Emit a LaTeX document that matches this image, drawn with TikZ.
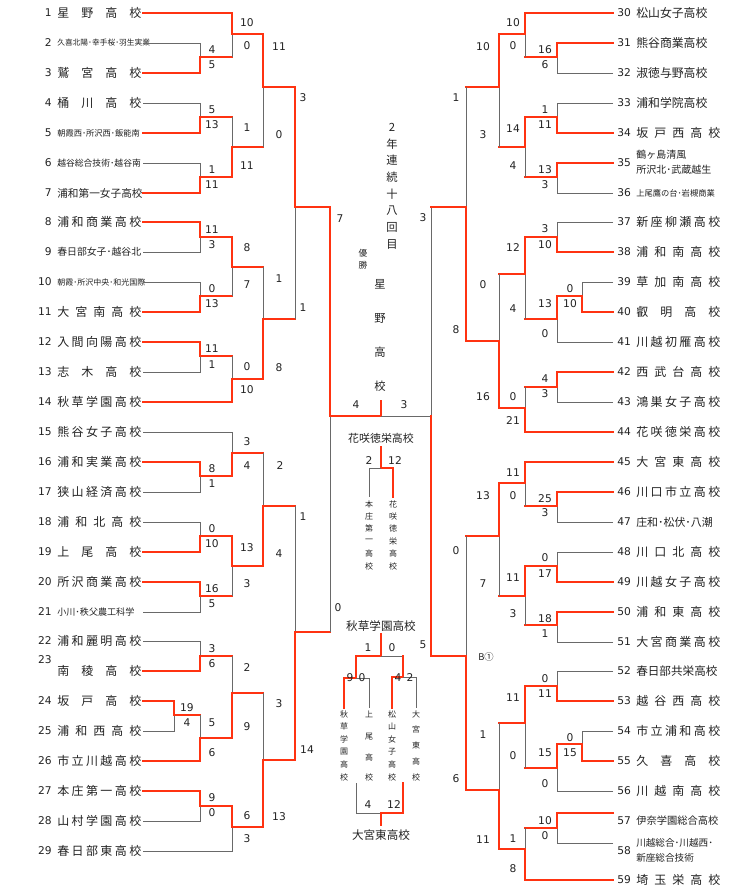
\documentclass[tikz,border=0pt]{standalone}
\usepackage{fontspec}
\setmainfont{DejaVu Sans}
\newfontfamily\jp{Noto Sans CJK JP}
\definecolor{rd}{RGB}{255,51,17}
\definecolor{ln}{RGB}{105,105,105}
\definecolor{tx}{RGB}{35,35,35}
\def\sprA#1{#1\sprB}
\def\sprB#1{\ifx#1\relax\else\hfill#1\expandafter\sprB\fi}
\newcommand\spr[1]{\makebox[63pt][l]{\sprA#1\relax}}
\newcommand\LT[4]{\node[num,anchor=east] (ln#2) at (52,#1) {#2};
  \node[anchor=west,inner sep=0,text=tx,font=\jp\fontsize{#3}{#3}\selectfont] (L#2) at (57,#1) {#4};}
\newcommand\RT[4]{\node[num,anchor=west] (rn#2) at (617,#1) {#2};
  \node[anchor=west,inner sep=0,text=tx,font=\jp\fontsize{#3}{#3}\selectfont] (R#2) at (636,#1) {#4};}
\begin{document}
\begin{tikzpicture}[x=0.75pt,y=-0.75pt,
  R/.style={draw=rd,line width=2.2pt,line join=miter,line cap=rect},
  G/.style={draw=ln,line width=0.75pt},
  num/.style={inner sep=0,text=tx,font=\fontsize{8}{8}\selectfont},
  sc/.style={inner sep=0,text=tx,font=\fontsize{8}{8}\selectfont},
  jpt/.style={inner sep=0,text=tx,font=\jp\fontsize{#1}{#1}\selectfont}]
\useasboundingbox[fill=white] (0,0) rectangle (748,893);
% ---------- left teams
\LT{13}{1}{9}{\spr{星野高校}}
\LT{43}{2}{5.8}{久喜北陽･幸手桜･羽生実業}
\LT{73}{3}{9}{\spr{鷲宮高校}}
\LT{103}{4}{9}{\spr{桶川高校}}
\LT{133}{5}{6.2}{朝霞西･所沢西･飯能南}
\LT{163}{6}{6.6}{越谷総合技術･越谷南}
\LT{193}{7}{8}{浦和第一女子高校}
\LT{222}{8}{9}{\spr{浦和商業高校}}
\LT{252}{9}{7.4}{春日部女子･越谷北}
\LT{282}{10}{6}{朝霞･所沢中央･和光国際}
\LT{312}{11}{9}{\spr{大宮南高校}}
\LT{342}{12}{9}{\spr{入間向陽高校}}
\LT{372}{13}{9}{\spr{志木高校}}
\LT{402}{14}{9}{\spr{秋草学園高校}}
\LT{432}{15}{9}{\spr{熊谷女子高校}}
\LT{462}{16}{9}{\spr{浦和実業高校}}
\LT{492}{17}{9}{\spr{狭山経済高校}}
\LT{522}{18}{9}{\spr{浦和北高校}}
\LT{552}{19}{9}{\spr{上尾高校}}
\LT{582}{20}{9}{\spr{所沢商業高校}}
\LT{612}{21}{6.8}{小川･秩父農工科学}
\LT{641}{22}{9}{\spr{浦和麗明高校}}
\node[num,anchor=east] (ln23) at (52,660) {23};
\node[anchor=west,inner sep=0,text=tx,font=\jp\fontsize{9}{9}\selectfont] (L23) at (57,671) {\spr{南稜高校}};
\LT{701}{24}{9}{\spr{坂戸高校}}
\LT{731}{25}{9}{\spr{浦和西高校}}
\LT{761}{26}{9}{\spr{市立川越高校}}
\LT{791}{27}{9}{\spr{本庄第一高校}}
\LT{821}{28}{9}{\spr{山村学園高校}}
\LT{851}{29}{9}{\spr{春日部東高校}}
% ---------- right teams
\RT{13}{30}{8.9}{松山女子高校}
\RT{43}{31}{8.9}{熊谷商業高校}
\RT{73}{32}{8.9}{淑徳与野高校}
\RT{103}{33}{8.9}{浦和学院高校}
\RT{133}{34}{9}{\spr{坂戸西高校}}
\node[num,anchor=west] (rn35) at (617,163) {35};
\node[jpt=7.5,anchor=west] (R35a) at (636,155) {鶴ヶ島清風};
\node[jpt=7.5,anchor=west] (R35b) at (636,170) {所沢北･武蔵越生};
\RT{193}{36}{6.2}{上尾鷹の台･岩槻商業}
\RT{222}{37}{9}{\spr{新座柳瀬高校}}
\RT{252}{38}{9}{\spr{浦和南高校}}
\RT{282}{39}{9}{\spr{草加南高校}}
\RT{312}{40}{9}{\spr{叡明高校}}
\RT{342}{41}{9}{\spr{川越初雁高校}}
\RT{372}{42}{9}{\spr{西武台高校}}
\RT{402}{43}{9}{\spr{鴻巣女子高校}}
\RT{432}{44}{9}{\spr{花咲徳栄高校}}
\RT{462}{45}{9}{\spr{大宮東高校}}
\RT{492}{46}{9}{\spr{川口市立高校}}
\RT{522}{47}{8.2}{庄和･松伏･八潮}
\RT{552}{48}{9}{\spr{川口北高校}}
\RT{582}{49}{9}{\spr{川越女子高校}}
\RT{612}{50}{9}{\spr{浦和東高校}}
\RT{642}{51}{9}{\spr{大宮商業高校}}
\RT{671}{52}{8.7}{春日部共栄高校}
\RT{701}{53}{9}{\spr{越谷西高校}}
\RT{731}{54}{9}{\spr{市立浦和高校}}
\RT{761}{55}{9}{\spr{久喜高校}}
\RT{791}{56}{9}{\spr{川越南高校}}
\RT{821}{57}{7.7}{伊奈学園総合高校}
\node[num,anchor=west] (rn58) at (617,851) {58};
\node[jpt=7.2,anchor=west] (R58a) at (636,843) {川越総合･川越西･};
\node[jpt=7.2,anchor=west] (R58b) at (636,858) {新座総合技術};
\RT{880}{59}{9}{\spr{埼玉栄高校}}
% ---------- left bracket (top)
\draw[G] (143,43)--(200,43)--(200,57);
\draw[R] (143,73)--(200,73)--(200,57);
\draw[R] (143,13)--(232,13)--(232,34);
\draw[R] (200,57)--(232,57); \draw[G] (232,57)--(232,34);
\draw[R] (232,34)--(263,34)--(263,87);
\draw[G] (143,103)--(200,103)--(200,117); \draw[R] (143,133)--(200,133)--(200,117);
\draw[G] (143,163)--(200,163)--(200,177); \draw[R] (143,193)--(200,193)--(200,177);
\draw[R] (200,117)--(232,117); \draw[G] (232,117)--(232,147); \draw[R] (200,177)--(232,177)--(232,147);
\draw[R] (232,147)--(263,147); \draw[G] (263,147)--(263,87);
\draw[R] (263,87)--(295,87)--(295,207);
\draw[R] (143,222)--(200,222)--(200,237); \draw[G] (143,252)--(200,252)--(200,237);
\draw[G] (143,282)--(200,282)--(200,296); \draw[R] (143,312)--(200,312)--(200,296);
\draw[R] (200,237)--(232,237)--(232,267); \draw[R] (200,296)--(232,296); \draw[G] (232,296)--(232,267);
\draw[R] (143,342)--(200,342)--(200,356); \draw[G] (143,372)--(200,372)--(200,356);
\draw[R] (200,356)--(232,356); \draw[G] (232,356)--(232,379); \draw[R] (143,402)--(232,402)--(232,379);
\draw[R] (232,267)--(263,267); \draw[G] (263,267)--(263,319); \draw[R] (232,379)--(263,379)--(263,319);
\draw[R] (263,319)--(295,319); \draw[G] (295,319)--(295,207);
\draw[R] (295,207)--(330,207)--(330,416);
% left bottom
\draw[R] (143,462)--(200,462)--(200,476); \draw[G] (143,492)--(200,492)--(200,476);
\draw[G] (143,432)--(232,432)--(232,453); \draw[R] (200,476)--(232,476)--(232,453);
\draw[G] (143,522)--(200,522)--(200,536); \draw[R] (143,552)--(200,552)--(200,536);
\draw[R] (143,582)--(200,582)--(200,596); \draw[G] (143,612)--(200,612)--(200,596);
\draw[R] (200,536)--(232,536)--(232,566); \draw[R] (200,596)--(232,596); \draw[G] (232,596)--(232,566);
\draw[R] (232,453)--(263,453); \draw[G] (263,453)--(263,506); \draw[R] (232,566)--(263,566)--(263,506);
\draw[G] (143,641)--(200,641)--(200,656); \draw[R] (143,671)--(200,671)--(200,656);
\draw[R] (143,701)--(174,701)--(174,715); \draw[G] (143,731)--(174,731)--(174,715);
\draw[R] (174,715)--(200,715); \draw[G] (200,715)--(200,738); \draw[R] (143,761)--(200,761)--(200,738);
\draw[R] (200,656)--(232,656); \draw[G] (232,656)--(232,693); \draw[R] (200,738)--(232,738)--(232,693);
\draw[R] (143,791)--(200,791)--(200,806); \draw[G] (143,821)--(200,821)--(200,806);
\draw[R] (200,806)--(232,806)--(232,827); \draw[G] (143,851)--(232,851)--(232,827);
\draw[R] (232,693)--(263,693); \draw[G] (263,693)--(263,760); \draw[R] (232,827)--(263,827)--(263,760);
\draw[R] (263,506)--(295,506); \draw[G] (295,506)--(295,632); \draw[R] (263,760)--(295,760)--(295,632);
\draw[R] (295,632)--(330,632); \draw[G] (330,632)--(330,416);
% final
\draw[R] (330,416)--(381,416)--(381,401);
\draw[G] (381,416)--(431,416); \draw[G] (431,207)--(431,416);
\draw[R] (466,656)--(431,656)--(431,416);
\draw[R] (466,207)--(431,207);
% ---------- right bracket (top)
\draw[R] (613,43)--(557,43)--(557,57); \draw[G] (613,73)--(557,73)--(557,57);
\draw[R] (613,13)--(525,13)--(525,34); \draw[R] (557,57)--(525,57); \draw[G] (525,57)--(525,34);
\draw[G] (613,103)--(557,103)--(557,117); \draw[R] (613,133)--(557,133)--(557,117);
\draw[R] (613,163)--(557,163)--(557,177); \draw[G] (613,193)--(557,193)--(557,177);
\draw[R] (557,117)--(525,117)--(525,147); \draw[R] (557,177)--(525,177); \draw[G] (525,177)--(525,147);
\draw[R] (525,34)--(499,34)--(499,87); \draw[R] (525,147)--(499,147); \draw[G] (499,147)--(499,87);
\draw[G] (613,222)--(557,222)--(557,237); \draw[R] (613,252)--(557,252)--(557,237);
\draw[G] (613,282)--(582,282)--(582,296); \draw[R] (613,312)--(582,312)--(582,296);
\draw[R] (582,296)--(557,296)--(557,319); \draw[G] (613,342)--(557,342)--(557,319);
\draw[R] (557,237)--(525,237)--(525,274); \draw[R] (557,319)--(525,319); \draw[G] (525,319)--(525,274);
\draw[R] (613,372)--(557,372)--(557,387); \draw[G] (613,402)--(557,402)--(557,387);
\draw[R] (557,387)--(525,387); \draw[G] (525,387)--(525,408); \draw[R] (613,432)--(525,432)--(525,408);
\draw[R] (525,274)--(499,274); \draw[G] (499,274)--(499,341); \draw[R] (525,408)--(499,408)--(499,341);
\draw[R] (499,87)--(466,87); \draw[G] (466,87)--(466,207); \draw[R] (499,341)--(466,341)--(466,207);
% right bottom
\draw[R] (613,492)--(557,492)--(557,506); \draw[G] (613,522)--(557,522)--(557,506);
\draw[R] (613,462)--(525,462)--(525,483); \draw[R] (557,506)--(525,506); \draw[G] (525,506)--(525,483);
\draw[G] (613,552)--(557,552)--(557,566); \draw[R] (613,582)--(557,582)--(557,566);
\draw[R] (613,612)--(557,612)--(557,625); \draw[G] (613,642)--(557,642)--(557,625);
\draw[R] (557,566)--(525,566)--(525,596); \draw[R] (557,625)--(525,625); \draw[G] (525,625)--(525,596);
\draw[R] (525,483)--(499,483)--(499,536); \draw[R] (525,596)--(499,596); \draw[G] (499,596)--(499,536);
\draw[G] (613,671)--(557,671)--(557,686); \draw[R] (613,701)--(557,701)--(557,686);
\draw[G] (613,731)--(582,731)--(582,744); \draw[R] (613,761)--(582,761)--(582,744);
\draw[R] (582,744)--(557,744)--(557,768); \draw[G] (613,791)--(557,791)--(557,768);
\draw[R] (557,686)--(525,686)--(525,723); \draw[R] (557,768)--(525,768); \draw[G] (525,768)--(525,723);
\draw[R] (613,813)--(557,813)--(557,828); \draw[G] (613,843)--(557,843)--(557,828);
\draw[R] (557,828)--(525,828); \draw[G] (525,828)--(525,849); \draw[R] (613,880)--(525,880)--(525,849);
\draw[R] (525,723)--(499,723); \draw[G] (499,723)--(499,790); \draw[R] (525,849)--(499,849)--(499,790);
\draw[R] (499,536)--(466,536); \draw[G] (466,536)--(466,656); \draw[R] (499,790)--(466,790)--(466,656);
% ---------- scores left
\foreach \x/\y/\s in {212/50/4,212/65/5,247/23/10,247/46/0,212/110/5,212/125/13,212/170/1,212/185/11,
 247/128/1,247/166/11,279/47/11,279/135/0,212/230/11,212/245/3,212/289/0,212/304/13,247/248/8,247/285/7,
 212/349/11,212/365/1,247/367/0,247/390/10,279/279/1,279/368/8,303/98/3,303/308/1,340/219/7,338/608/0,
 212/469/8,212/484/1,247/442/3,247/466/4,212/529/0,212/544/10,212/589/16,212/604/5,247/548/13,247/584/3,
 280/466/2,279/554/4,212/649/3,212/664/6,187/708/19,187/723/4,212/723/5,212/753/6,247/668/2,247/727/9,
 212/798/9,212/813/0,247/816/6,247/839/3,279/704/3,279/817/13,303/517/1,307/750/14,
 356/405/4,404/405/3,423/218/3,423/645/5}
 \node[sc] at (\x,\y) {\s};
% scores right
\foreach \x/\y/\s in {545/50/16,545/65/6,513/23/10,513/46/0,545/110/1,545/125/11,545/170/13,545/185/3,
 513/129/14,513/166/4,483/47/10,483/135/3,545/229/3,545/245/10,570/289/0,570/304/10,545/304/13,545/334/0,
 513/248/12,513/309/4,545/379/4,545/394/3,513/397/0,513/421/21,483/285/0,483/397/16,456/98/1,456/330/8,
 545/499/25,545/513/3,513/473/11,513/496/0,545/558/0,545/574/17,545/619/18,545/634/1,513/578/11,513/614/3,
 483/496/13,483/584/7,545/679/0,545/694/11,570/738/0,570/753/15,545/753/15,545/784/0,513/698/11,513/756/0,
 545/821/10,545/836/0,513/839/1,513/869/8,483/735/1,483/840/11,456/551/0,456/779/6}
 \node[sc] at (\x,\y) {\s};
\node[jpt=7] (b1) at (486,657) {B①};
% ---------- centre title
\foreach \c [count=\i] in {2,年,連,続,十,八,回,目}
 \node[jpt=8.5] at (392,{127+16.8*(\i-1)}) {\c};
\node[jpt=6.5] at (363,253) {優};
\node[jpt=6.5] at (363,265) {勝};
\foreach \c [count=\i] in {星,野,高,校}
 \node[jpt=8.5] at (380,{284+34*(\i-1)}) {\c};
% ---------- mini bracket 1
\node[jpt=8.2] (hs) at (381,438) {花咲徳栄高校};
\draw[R] (381,447)--(381,468)--(393,468)--(393,497);
\draw[G] (381,468)--(369,468)--(369,497);
\node[sc] at (369,461) {2}; \node[sc] at (395,461) {12};
\foreach \c [count=\i] in {本,庄,第,一,高,校}
 \node[jpt=6] at (369,{504+12.4*(\i-1)}) {\c};
\foreach \c [count=\i] in {花,咲,徳,栄,高,校}
 \node[jpt=6] at (393,{504+12.4*(\i-1)}) {\c};
% ---------- mini bracket 2
\node[jpt=8.7] (ak) at (381,626) {秋草学園高校};
\draw[R] (381,634)--(381,656)--(356,656)--(356,678)--(344,678)--(344,708);
\draw[G] (381,656)--(403,656);
\draw[R] (403,656)--(403,677)--(392,677)--(392,708);
\draw[G] (356,678)--(369,678)--(369,708);
\draw[G] (403,677)--(416,677)--(416,708);
\node[sc] at (368,648) {1}; \node[sc] at (392,648) {0};
\node[sc] at (350,678) {9}; \node[sc] at (362,678) {0};
\node[sc] at (398,678) {4}; \node[sc] at (410,678) {2};
\foreach \c [count=\i] in {秋,草,学,園,高,校}
 \node[jpt=6] at (344,{714+12.6*(\i-1)}) {\c};
\foreach \c/\yy in {上/714,尾/737,高/757,校/777}
 \node[jpt=6] at (369,\yy) {\c};
\foreach \c [count=\i] in {松,山,女,子,高,校}
 \node[jpt=6] at (392,{714+12.6*(\i-1)}) {\c};
\foreach \c [count=\i] in {大,宮,東,高,校}
 \node[jpt=6] at (416,{714+15.8*(\i-1)}) {\c};
\draw[G] (356,783)--(356,813)--(381,813);
\draw[R] (381,825)--(381,813)--(403,813)--(403,783);
\node[sc] at (368,805) {4}; \node[sc] at (394,805) {12};
\node[jpt=8.7] (oe) at (381,835) {大宮東高校};
\end{tikzpicture}
\end{document}
